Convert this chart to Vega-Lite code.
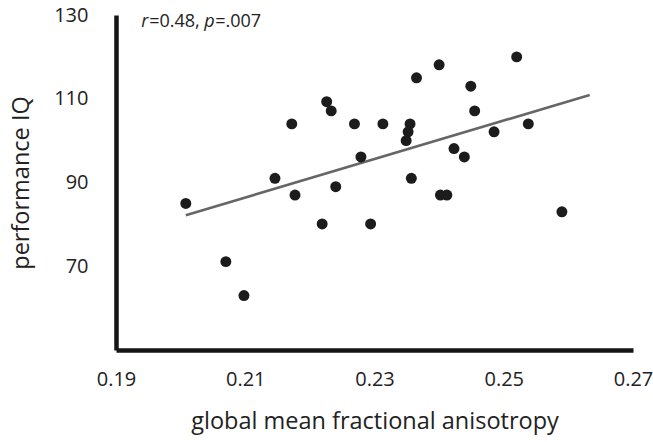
{
  "$schema": "https://vega.github.io/schema/vega-lite/v6.json",
  "autosize": "none",
  "width": 517,
  "height": 335,
  "padding": {"left": 116, "top": 15, "right": 20, "bottom": 92},
  "background": "white",
  "config": {
    "view": {"stroke": null},
    "font": "Open Sans",
    "axis": {"grid": false, "ticks": false, "domainColor": "#151515", "domainWidth": 4.5, "labelColor": "#222", "titleColor": "#222", "labelFont": "Open Sans", "titleFont": "Open Sans", "titleFontWeight": "normal"}
  },
  "datasets": {
    "pts": [
      {"fa": 0.2008, "piq": 85.0},
      {"fa": 0.2070, "piq": 71.1},
      {"fa": 0.2098, "piq": 63.0},
      {"fa": 0.2146, "piq": 91.0},
      {"fa": 0.2172, "piq": 104.0},
      {"fa": 0.2177, "piq": 87.0},
      {"fa": 0.2219, "piq": 80.1},
      {"fa": 0.2226, "piq": 109.3},
      {"fa": 0.2233, "piq": 107.1},
      {"fa": 0.2240, "piq": 89.0},
      {"fa": 0.2269, "piq": 104.0},
      {"fa": 0.2279, "piq": 96.1},
      {"fa": 0.2294, "piq": 80.1},
      {"fa": 0.2313, "piq": 104.0},
      {"fa": 0.2357, "piq": 91.0},
      {"fa": 0.2355, "piq": 104.0},
      {"fa": 0.2352, "piq": 102.1},
      {"fa": 0.2349, "piq": 100.0},
      {"fa": 0.2365, "piq": 115.0},
      {"fa": 0.2400, "piq": 118.1},
      {"fa": 0.2402, "piq": 87.0},
      {"fa": 0.2412, "piq": 87.0},
      {"fa": 0.2423, "piq": 98.1},
      {"fa": 0.2439, "piq": 96.1},
      {"fa": 0.2449, "piq": 113.0},
      {"fa": 0.2455, "piq": 107.1},
      {"fa": 0.2485, "piq": 102.1},
      {"fa": 0.2520, "piq": 120.0},
      {"fa": 0.2538, "piq": 104.0},
      {"fa": 0.2590, "piq": 83.0}
    ],
    "fit": [
      {"fa": 0.2008, "piq": 82.2},
      {"fa": 0.2633, "piq": 110.9}
    ],
    "note": [{}]
  },
  "layer": [
    {
      "data": {"name": "fit"},
      "mark": {"type": "line", "color": "#666666", "strokeWidth": 2.6, "clip": false},
      "encoding": {
        "x": {"field": "fa", "type": "quantitative", "scale": {"domain": [0.19, 0.27], "nice": false, "zero": false},
          "axis": {"values": [0.19, 0.21, 0.23, 0.25, 0.27], "format": ".2f", "labelFontSize": 20, "labelPadding": 19, "labelFlush": false, "labelOverlap": false, "title": "global mean fractional anisotropy", "titleFontSize": 23.5, "titlePadding": 20}},
        "y": {"field": "piq", "type": "quantitative", "scale": {"domain": [50, 130], "nice": false, "zero": false},
          "axis": {"values": [70, 90, 110, 130], "labelFontSize": 20, "labelPadding": 28, "labelOverlap": false, "labelFlush": false, "title": "performance IQ", "titleFontSize": 23.5, "titlePadding": 20}}
      }
    },
    {
      "data": {"name": "pts"},
      "mark": {"type": "circle", "size": 120, "color": "#1c1c1c", "opacity": 1},
      "encoding": {
        "x": {"field": "fa", "type": "quantitative"},
        "y": {"field": "piq", "type": "quantitative"}
      }
    },
    {
      "data": {"name": "note"},
      "mark": {"type": "text", "text": "r", "fontStyle": "italic", "fontSize": 18, "align": "left", "baseline": "alphabetic", "color": "#222", "dx": 0},
      "encoding": {"x": {"datum": 0.1939, "type": "quantitative"}, "y": {"datum": 127.1, "type": "quantitative"}}
    },
    {
      "data": {"name": "note"},
      "mark": {"type": "text", "text": "=0.48,", "fontSize": 18, "align": "left", "baseline": "alphabetic", "color": "#222", "dx": 8},
      "encoding": {"x": {"datum": 0.1939, "type": "quantitative"}, "y": {"datum": 127.1, "type": "quantitative"}}
    },
    {
      "data": {"name": "note"},
      "mark": {"type": "text", "text": "p", "fontStyle": "italic", "fontSize": 18, "align": "left", "baseline": "alphabetic", "color": "#222", "dx": 63},
      "encoding": {"x": {"datum": 0.1939, "type": "quantitative"}, "y": {"datum": 127.1, "type": "quantitative"}}
    },
    {
      "data": {"name": "note"},
      "mark": {"type": "text", "text": "=.007", "fontSize": 18, "align": "left", "baseline": "alphabetic", "color": "#222", "dx": 74},
      "encoding": {"x": {"datum": 0.1939, "type": "quantitative"}, "y": {"datum": 127.1, "type": "quantitative"}}
    }
  ]
}
